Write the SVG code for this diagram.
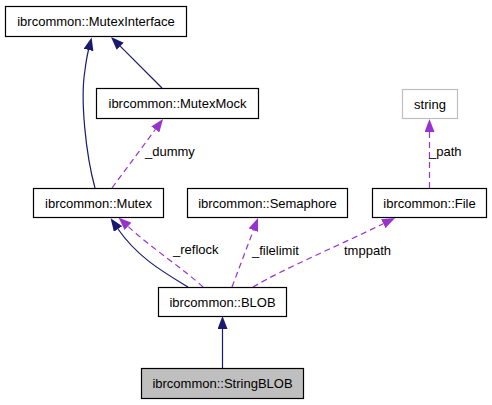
<svg xmlns="http://www.w3.org/2000/svg" width="492" height="405" viewBox="0 0 492 405">
<style>
.box{fill:#ffffff;stroke:#000000;stroke-width:1.2}
.lbl{font-family:"Liberation Sans",Arial,Helvetica,sans-serif;font-size:13px;fill:#000000}
.c{text-anchor:middle}
.inh{fill:none;stroke:#191970;stroke-width:1.2}
.use{fill:none;stroke:#9a32cd;stroke-width:1.2;stroke-dasharray:6,4}
</style>
<defs>
<marker id="an" viewBox="0 0 13 10" refX="0" refY="5" markerWidth="13" markerHeight="10" markerUnits="userSpaceOnUse" orient="auto">
<path d="M0,0 L13,5 L0,10 z" fill="#191970"/>
</marker>
<marker id="ap" viewBox="0 0 13 10" refX="0" refY="5" markerWidth="13" markerHeight="10" markerUnits="userSpaceOnUse" orient="auto">
<path d="M0,0 L13,5 L0,10 z" fill="#9a32cd"/>
</marker>
</defs>
<rect width="492" height="405" fill="#ffffff"/>
<g id="connectors">
<path class="inh" marker-end="url(#an)" d="M95,188 C86,155 80,100 85,70 C86,62 87,56 88.5,50"/>
<path class="inh" marker-end="url(#an)" d="M162,88 L120.2,46.2"/>
<path class="use" marker-end="url(#ap)" d="M112,188 L155.3,129.5"/>
<path class="inh" marker-end="url(#an)" d="M188,287 C165,273 138,258 118,229"/>
<path class="use" marker-end="url(#ap)" d="M203,287 C185,270 150,247 128,226.3"/>
<path class="use" marker-end="url(#ap)" d="M232,287 L253.4,230.2"/>
<path class="use" marker-end="url(#ap)" d="M253,287 C285,268 340,245 383.3,223.7"/>
<path class="use" marker-end="url(#ap)" d="M429.5,188 L429.5,132"/>
<path class="inh" marker-end="url(#an)" d="M222.5,368 L222.5,329"/>
<text class="lbl" x="145" y="156">_dummy</text>
<text class="lbl" x="173" y="254">_reflock</text>
<text class="lbl" x="252" y="255">_filelimit</text>
<text class="lbl" x="344" y="255">tmppath</text>
<text class="lbl" x="429" y="156">_path</text>
</g>
<g id="MutexInterface">
<rect class="box" x="5.5" y="6.5" width="181" height="30"/>
<text class="lbl c" x="96" y="26">ibrcommon::MutexInterface</text>
</g>
<g id="MutexMock">
<rect class="box" x="96.5" y="88.5" width="162" height="30"/>
<text class="lbl c" x="177.5" y="108">ibrcommon::MutexMock</text>
</g>
<g id="string">
<rect x="402.5" y="89.5" width="55" height="29" fill="#ffffff" stroke="#bfbfbf" stroke-width="1.2"/>
<text class="lbl c" x="430" y="108.5">string</text>
</g>
<g id="Mutex">
<rect class="box" x="33.5" y="188.5" width="130" height="29"/>
<text class="lbl c" x="98.5" y="207.5">ibrcommon::Mutex</text>
</g>
<g id="Semaphore">
<rect class="box" x="187.5" y="188.5" width="160" height="29"/>
<text class="lbl c" x="267.5" y="207.5">ibrcommon::Semaphore</text>
</g>
<g id="File">
<rect class="box" x="372.5" y="188.5" width="114" height="29"/>
<text class="lbl c" x="429.5" y="207.5">ibrcommon::File</text>
</g>
<g id="BLOB">
<rect class="box" x="158.5" y="287.5" width="128" height="29"/>
<text class="lbl c" x="222.5" y="306.5">ibrcommon::BLOB</text>
</g>
<g id="StringBLOB">
<rect x="141.5" y="368.5" width="162" height="30" fill="#bfbfbf" stroke="#000000" stroke-width="1.2"/>
<text class="lbl c" x="222.5" y="388">ibrcommon::StringBLOB</text>
</g>
</svg>
